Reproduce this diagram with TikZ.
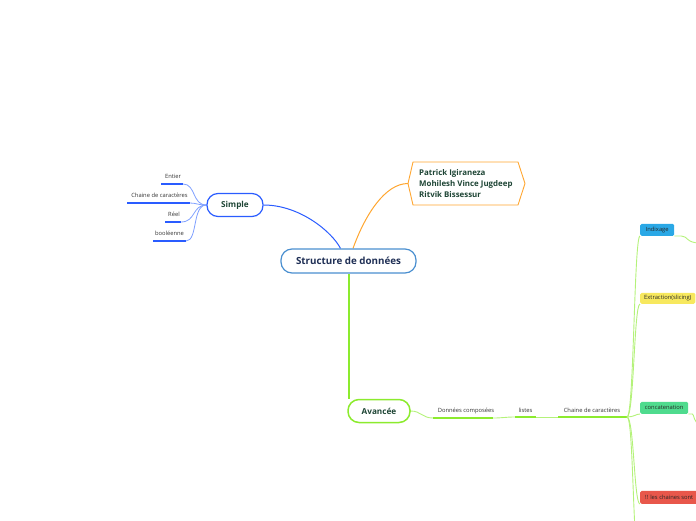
\documentclass[tikz,border=0pt]{standalone}
\usepackage{fontspec}
\setmainfont{Open Sans}
\usetikzlibrary{backgrounds}
\definecolor{cblue}{HTML}{2A5CFF}
\definecolor{cbluel}{HTML}{7FA0FF}
\definecolor{corange}{HTML}{FFA630}
\definecolor{clime}{HTML}{8CEB2E}
\definecolor{climel}{HTML}{B4F27A}
\definecolor{ccenter}{HTML}{4A8FD0}
\definecolor{ctxt}{HTML}{1E4535}
\definecolor{cnavy}{HTML}{1F2F55}
\definecolor{fblue}{HTML}{2AA8E6}
\definecolor{fyellow}{HTML}{F7E85E}
\definecolor{fgreen}{HTML}{4FDB8E}
\definecolor{fred}{HTML}{E8574B}
\begin{document}
\begin{tikzpicture}[x=1pt,y=-1pt,
  leaf/.style={font=\fontsize{5.8}{7}\selectfont, text=black!80, inner sep=0pt},
  mainbox/.style={draw, rounded corners=11pt, fill=white, font=\fontsize{8.2}{9.8}\selectfont\bfseries, text=ctxt, minimum height=23pt, line width=1.2pt},
  tag/.style={rounded corners=1.5pt, minimum height=12pt, inner xsep=4pt, inner ysep=0pt, font=\fontsize{5.8}{7}\selectfont, text=black!85, anchor=south west},
  bline/.style={cblue, line width=1.1pt},
  bcurve/.style={cbluel, line width=0.8pt},
  gline/.style={clime, line width=1.2pt},
  gcurve/.style={climel, line width=0.9pt},
]
\useasboundingbox (0,0) rectangle (696,520);
\clip (0,0) rectangle (696,520);

% main nodes
\node[mainbox, draw=ccenter, minimum width=135pt, minimum height=24pt, font=\fontsize{9.8}{11}\selectfont\bfseries, text=cnavy] (root) at (348.5,261) {Structure de données};
\node[mainbox, draw=cblue, minimum width=56pt] (simple) at (235,205) {Simple};
\node[mainbox, draw=clime, minimum width=62pt, line width=1.5pt] (avancee) at (379,411) {Avancée};

% team node
\coordinate (tw) at (408,183.5);
\draw[corange, line width=0.9pt, fill=white] (tw) -- (413,162) -- (518,162) -- (525,183.5) -- (518,205) -- (413,205) -- cycle;
\node[font=\fontsize{7.9}{11}\selectfont\bfseries, text=ctxt, align=left, anchor=west, inner sep=0pt] (team) at (419,184) {Patrick Igiraneza\\Mohilesh Vince Jugdeep\\Ritvik Bissessur};

% left leaves
\node[leaf] (entier) at (173,176.5) {Entier};
\node[leaf] (chaine1) at (159.5,195.5) {Chaine de caractères};
\node[leaf] (reel) at (174,214.5) {Réel};
\node[leaf] (bool) at (169.5,233.5) {booléenne};
\coordinate (e1) at (161,184); \coordinate (e2) at (183,184);
\coordinate (c11) at (127,203); \coordinate (c12) at (190,203);
\coordinate (r1) at (165,222); \coordinate (r2) at (181,222);
\coordinate (b1) at (153,241); \coordinate (b2) at (186,241);

% right branch leaves
\node[leaf] (donnees) at (466,410.5) {Données composées};
\node[leaf] (listes) at (525.5,410.5) {listes};
\node[leaf] (chaine2) at (592,410.5) {Chaine de caractères};
\coordinate (d1) at (433,418); \coordinate (d2) at (493,418);
\coordinate (l1) at (515,417); \coordinate (l2) at (536,417);
\coordinate (h1) at (558,417); \coordinate (h2) at (627,417);

% tags
\node[tag, fill=fblue, minimum width=34pt] (indix) at (640,236) {Indixage};
\node[tag, fill=fyellow, minimum height=11pt] (extr) at (640,304) {Extraction(slicing)};
\node[tag, fill=fgreen, minimum width=48pt] (concat) at (640,414) {concatenation};
\node[tag, fill=fred, minimum height=13pt, minimum width=58pt] (immu) at (640,504) {!! les chaines sont};
\coordinate (offdown) at (642,600);
\coordinate (offindix) at (700,243);
\coordinate (offconcat) at (700,424);

\begin{scope}[on background layer]
  % root connectors
  \draw[cblue, line width=1pt] (simple.east) .. controls (300,205) and (332,232) .. ([xshift=-8pt]root.north);
  \draw[corange, line width=1pt] ([xshift=4.5pt]root.north) .. controls (365,215) and (385,183.5) .. (tw);
  \draw[clime, line width=2pt] (root.south) -- (root.south |- avancee.north);
  % left leaves
  \draw[bline] (e1) -- (e2);
  \draw[bline] (c11) -- (c12);
  \draw[bline] (r1) -- (r2);
  \draw[bline] (b1) -- (b2);
  \draw[bcurve] (e2) .. controls (196,184) and (192,205) .. (simple.west);
  \draw[bcurve] (c12) .. controls (196,203) and (198,205) .. (simple.west);
  \draw[bcurve] (r2) .. controls (196,222) and (192,205) .. (simple.west);
  \draw[bcurve] (b2) .. controls (198,241) and (192,205) .. (simple.west);
  % avancee chain
  \draw[gcurve] (avancee.east) .. controls (421,411) and (422,418) .. (d1);
  \draw[gline] (d1) -- (d2);
  \draw[gcurve] (d2) .. controls (503,418) and (505,417) .. (l1);
  \draw[gline] (l1) -- (l2);
  \draw[gcurve] (l2) -- (h1);
  \draw[gline] (h1) -- (h2);
  % branches
  \draw[gcurve] (h2) .. controls (634,417) and (634,236) .. (indix.south west);
  \draw[gcurve] (h2) .. controls (634,417) and (634,304) .. (extr.south west);
  \draw[gcurve] (h2) .. controls (634,417) and (636,414) .. (concat.south west);
  \draw[gcurve] (h2) .. controls (634,417) and (634,504) .. (immu.south west);
  \draw[gcurve] (h2) .. controls (634,417) and (632,560) .. (offdown);
  % continuations off the page
  \draw[gcurve] (indix.south east) -- ++(7,0) .. controls (688,236) and (686,243) .. (offindix);
  \draw[gcurve] (concat.south east) -- ++(4,0) .. controls (694,414) and (694,424) .. (offconcat);
\end{scope}
\end{tikzpicture}
\end{document}
